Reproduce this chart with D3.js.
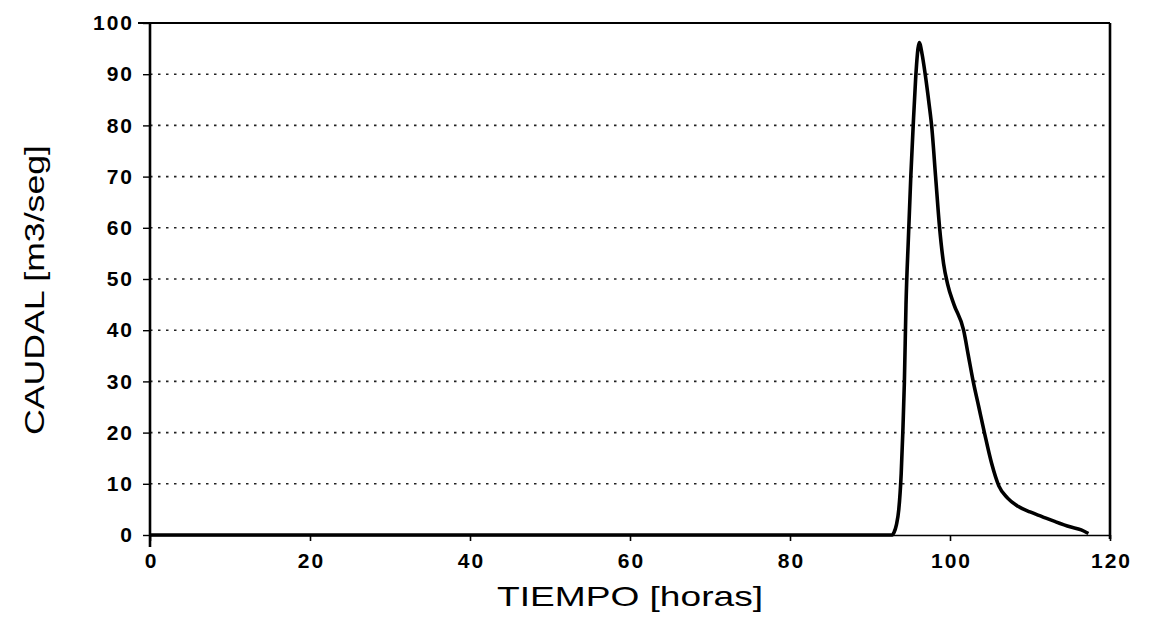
<!DOCTYPE html>
<html>
<head>
<meta charset="utf-8">
<script src="https://cdn.jsdelivr.net/npm/d3@7"></script>
<style>
  html, body { margin: 0; padding: 0; background: #fff; }
  svg { display: block; }
  text { font-family: "Liberation Sans", Arial, sans-serif; fill: #000; }
</style>
</head>
<body>
<svg id="chart" width="1152" height="624"></svg>
<script>
// Hydrograph: discharge (m3/s) against time (hours)
const tiempo = [0, 20, 40, 60, 80, 92.8, 93.0, 93.3, 93.6, 93.9, 94.1, 94.3, 94.5, 94.8, 95.1, 95.4, 95.7,
  96.0, 96.15, 96.5, 96.9, 97.4, 97.7, 98.2, 98.7, 99.2, 99.7, 100.5, 101.7, 102.3, 102.9, 103.6, 104.3,
  105.2, 106.1, 107.2, 108.5, 110.0, 111.5, 113.0, 115.0, 116.4, 117.3];
const caudal = [0, 0, 0, 0, 0, 0, 0.5, 2, 5, 12, 20, 30, 45, 58, 70, 80, 89,
  95, 96.2, 94, 90, 84, 80, 70, 60, 53, 49, 45, 40, 35, 30, 25, 20,
  14, 9.6, 7.2, 5.6, 4.5, 3.6, 2.7, 1.6, 1.0, 0.3];

const xTicks = [0, 20, 40, 60, 80, 100, 120];
const yTicks = [0, 10, 20, 30, 40, 50, 60, 70, 80, 90, 100];
const gridValues = [10, 20, 30, 40, 50, 60, 70, 80, 90];
const xTitle = "TIEMPO [horas]";
const yTitle = "CAUDAL [m3/seg]";

const svg = d3.select("#chart");
const plotLeft = 150, plotRight = 1110, plotTop = 23, plotBottom = 535;

const x = d3.scaleLinear().domain([0, 120]).range([plotLeft, plotRight]);
const y = d3.scaleLinear().domain([0, 100]).range([plotBottom, plotTop]);

// dotted horizontal grid
svg.append("g")
  .selectAll("line")
  .data(gridValues)
  .join("line")
  .attr("x1", plotLeft).attr("x2", plotRight)
  .attr("y1", d => y(d)).attr("y2", d => y(d))
  .attr("stroke", "#222")
  .attr("stroke-width", 1.6)
  .attr("stroke-dasharray", "2.5,5.5");

// frame: top and right borders
svg.append("line")
  .attr("x1", plotLeft - 12).attr("x2", plotRight)
  .attr("y1", y(100)).attr("y2", y(100))
  .attr("stroke", "#000").attr("stroke-width", 2.2);
svg.append("line")
  .attr("x1", plotRight).attr("x2", plotRight)
  .attr("y1", y(100)).attr("y2", y(0) + 4)
  .attr("stroke", "#000").attr("stroke-width", 2.6);

// y axis
const yAxis = svg.append("g")
  .attr("transform", `translate(${plotLeft},0)`)
  .call(d3.axisLeft(y).tickValues(yTicks).tickSize(7).tickSizeOuter(0).tickPadding(9)
    .tickFormat(d3.format("d")));
yAxis.select(".domain").remove();
yAxis.selectAll(".tick line").attr("stroke", "#000").attr("stroke-width", 1.4);
yAxis.selectAll(".tick text")
  .attr("font-size", 21)
  .attr("font-weight", "bold")
  .attr("letter-spacing", 2)
  .attr("font-family", "Liberation Sans, Arial, sans-serif");
svg.append("line")
  .attr("x1", plotLeft).attr("x2", plotLeft)
  .attr("y1", y(100)).attr("y2", y(0) + 12)
  .attr("stroke", "#000").attr("stroke-width", 2.6);

// x axis
const xAxis = svg.append("g")
  .attr("transform", `translate(0,${plotBottom})`)
  .call(d3.axisBottom(x).tickValues(xTicks).tickSize(6).tickSizeOuter(0).tickPadding(12)
    .tickFormat(d3.format("d")));
xAxis.select(".domain").attr("stroke", "#000").attr("stroke-width", 1.4);
xAxis.selectAll(".tick line").attr("stroke", "#000").attr("stroke-width", 1.6);
xAxis.selectAll(".tick text")
  .attr("font-size", 21)
  .attr("font-weight", "bold")
  .attr("letter-spacing", 2)
  .attr("dx", 1)
  .attr("font-family", "Liberation Sans, Arial, sans-serif");

// discharge curve
const pts = tiempo.map((t, i) => [t, caudal[i]]);
const line = d3.line().x(d => x(d[0])).y(d => y(d[1])).curve(d3.curveMonotoneX);
svg.append("path")
  .datum(pts)
  .attr("d", line)
  .attr("fill", "none")
  .attr("stroke", "#000")
  .attr("stroke-width", 3.6)
  .attr("stroke-linejoin", "round");

// axis titles
svg.append("text")
  .attr("x", 630).attr("y", 606)
  .attr("text-anchor", "middle")
  .attr("font-size", 28)
  .attr("textLength", 266)
  .attr("lengthAdjust", "spacingAndGlyphs")
  .text(xTitle);

svg.append("text")
  .attr("transform", "translate(44,290) rotate(-90)")
  .attr("text-anchor", "middle")
  .attr("font-size", 28)
  .attr("textLength", 290)
  .attr("lengthAdjust", "spacingAndGlyphs")
  .text(yTitle);
</script>
</body>
</html>
